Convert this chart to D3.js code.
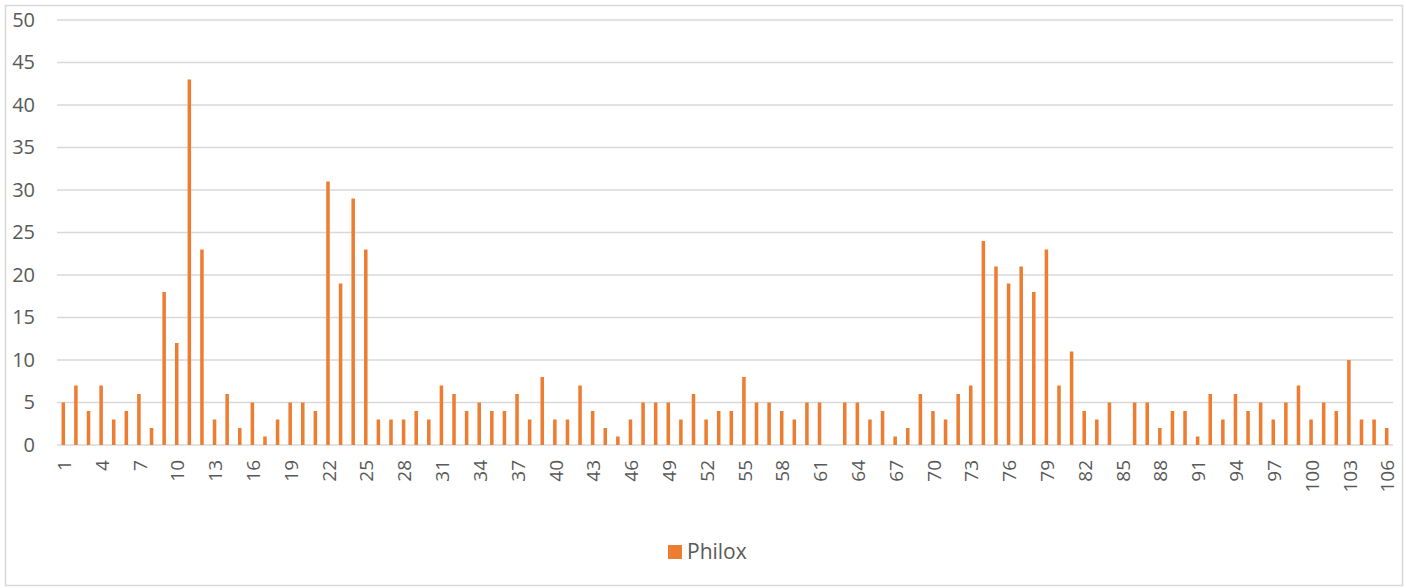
<!DOCTYPE html>
<html>
<head>
<meta charset="utf-8">
<script src="https://cdn.jsdelivr.net/npm/d3@7"></script>
<style>
  body { margin: 0; background: #fff; }
  text { font-family: "Open Sans", "Liberation Sans", sans-serif; fill: #595959; }
</style>
</head>
<body>
<svg id="chart" width="1406" height="588"></svg>
<script>
// categories 1..106
const categories = d3.range(1, 107).map(String)
const philox = [
  5, 7, 4, 7, 3, 4, 6, 2, 18, 12,
  43, 23, 3, 6, 2, 5, 1, 3, 5, 5,
  4, 31, 19, 29, 23, 3, 3, 3, 4, 3,
  7, 6, 4, 5, 4, 4, 6, 3, 8, 3,
  3, 7, 4, 2, 1, 3, 5, 5, 5, 3,
  6, 3, 4, 4, 8, 5, 5, 4, 3, 5,
  5, 0, 5, 5, 3, 4, 1, 2, 6, 4,
  3, 6, 7, 24, 21, 19, 21, 18, 23, 7,
  11, 4, 3, 5, 0, 5, 5, 2, 4, 4,
  1, 6, 3, 6, 4, 5, 3, 5, 7, 3,
  5, 4, 10, 3, 3, 2
]
const yTicks = [0, 5, 10, 15, 20, 25, 30, 35, 40, 45, 50]
const seriesName = 'Philox'

const color = '#ed7d31'
const svg = d3.select('#chart')

// outer chart border
svg.append('rect')
    .attr('x', 5.5).attr('y', 5.5)
    .attr('width', 1397).attr('height', 580)
    .attr('fill', 'none')
    .attr('stroke', '#d9d9d9')
    .attr('stroke-width', 1.5)

let plotL = 57, plotR = 1393, plotT = 20, plotB = 445

let x = d3.scaleBand()
    .domain(categories)
    .range([plotL, plotR])
    .paddingInner(0.72)
    .paddingOuter(0.36)

let y = d3.scaleLinear()
    .domain([0, 50])
    .range([plotB, plotT])

// gridlines
svg.append('g')
    .selectAll('line')
    .data(yTicks)
    .join('line')
    .attr('x1', plotL).attr('x2', plotR)
    .attr('y1', d => y(d)).attr('y2', d => y(d))
    .attr('stroke', '#d9d9d9')
    .attr('stroke-width', 1.5)

// y axis labels
let yAxis = svg.append('g')
    .attr('transform', 'translate(35,0)')
    .call(d3.axisLeft(y).tickValues(yTicks).tickSize(0).tickPadding(0))
yAxis.select('.domain').remove()
yAxis.selectAll('text')
    .attr('font-size', 20)
    .style('font-family', '"Open Sans", sans-serif')
    .attr('fill', '#595959')

// bars
svg.append('g')
    .selectAll('rect')
    .data(philox)
    .join('rect')
    .attr('x', (d, i) => x(categories[i]))
    .attr('y', d => y(d))
    .attr('width', x.bandwidth())
    .attr('height', d => y(0) - y(d))
    .attr('fill', color)

// x axis labels, every third one
let xAxis = svg.append('g')
    .attr('transform', 'translate(0,' + plotB + ')')
    .call(d3.axisBottom(x)
        .tickValues(categories.filter((d, i) => i % 3 === 0))
        .tickSize(0))
xAxis.select('.domain').remove()
xAxis.selectAll('text')
    .attr('font-size', 19)
    .style('font-family', '"Open Sans", sans-serif')
    .attr('fill', '#595959')
    .attr('text-anchor', 'end')
    .attr('dy', '0.35em')
    .attr('transform', 'translate(1,15) rotate(-90)')
    .attr('x', 0).attr('y', 0)

// legend
let legend = svg.append('g')
    .attr('transform', 'translate(668,545)')
legend.append('rect')
    .attr('width', 14).attr('height', 14)
    .attr('fill', color)
legend.append('text')
    .attr('x', 19).attr('y', 7)
    .attr('dy', '0.35em')
    .attr('font-size', 21)
    .text(seriesName)
</script>
</body>
</html>
